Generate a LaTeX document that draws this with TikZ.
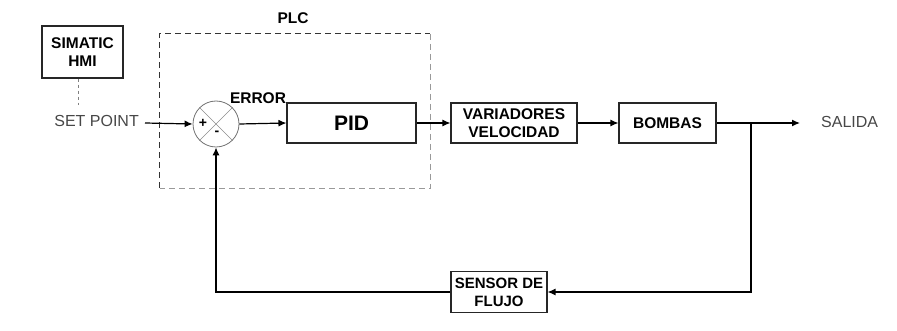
\documentclass[tikz,border=0pt]{standalone}
\usepackage{fontspec}
\setmainfont{Liberation Sans}
\usetikzlibrary{arrows.meta,calc}
\begin{document}
\begin{tikzpicture}[x=1pt,y=-1pt,
  blk/.style={draw=black!85,line width=1.1pt,fill=white,inner sep=0pt,align=center,
     font=\fontsize{15.5}{18}\selectfont\bfseries},
  lbl/.style={font=\fontsize{15.5}{16}\selectfont\bfseries,inner sep=0pt},
  plain/.style={font=\fontsize{16}{17}\selectfont,text=black!72,inner sep=0pt},
  conn/.style={line width=1.2pt,-{Latex[length=8pt,width=7pt]}},
  plcframe/.style={dashed,line width=1.1pt,dash pattern=on 6pt off 4pt}]
\useasboundingbox (0,0) rectangle (897,331);
% PLC dashed frame
\node[inner sep=0pt,minimum width=270pt,minimum height=154pt] (plc) at (295,111) {};
\draw[plcframe,black!80] (plc.south west) -- (plc.north west) -- (plc.north east);
\draw[plcframe,black!40] (plc.north east) -- (plc.south east) -- (plc.south west);
\node[lbl] (plclbl) at (293,18) {PLC};
% blocks
\node[blk,minimum width=81pt,minimum height=52pt] (hmi) at (82.5,52) {SIMATIC\\HMI};
\node[draw=black!55,line width=0.8pt,circle,minimum size=46pt,inner sep=0pt] (sum) at (216,124) {};
\draw[black!45,line width=0.6pt] (sum.north west) -- (sum.south east) (sum.north east) -- (sum.south west);
\node[font=\fontsize{14}{14}\selectfont\bfseries,inner sep=0pt] (plus) at (203,123) {+};
\node[font=\fontsize{14}{14}\selectfont\bfseries,inner sep=0pt] (minus) at (217,133) {-};
\node[blk,minimum width=129pt,minimum height=40pt,font=\fontsize{21}{22}\selectfont\bfseries] (pid) at (351.5,123) {PID};
\node[blk,minimum width=126pt,minimum height=40pt] (var) at (514,123) {VARIADORES\\VELOCIDAD};
\node[blk,minimum width=97pt,minimum height=40pt] (bom) at (667.5,123) {BOMBAS};
\node[blk,minimum width=96pt,minimum height=41pt,font=\fontsize{15}{18}\selectfont\bfseries] (sen) at (499,292) {SENSOR DE\\FLUJO};
% texts
\node[plain,anchor=east] (sp) at (139,121) {SET POINT};
\node[plain,anchor=west] (sal) at (821,122) {SALIDA};
\node[lbl] (err) at (258,98) {ERROR};
% coordinates
\coordinate (spstart) at (145,123);
\coordinate (branch) at (751,123);
\coordinate (out) at (800,123);
\coordinate (hmilink) at (78,105);
% connectors
\draw[black!50,dashed,line width=0.9pt] (hmi.south -| hmilink) -- (hmilink);
\draw[conn] (spstart) -- (sum.west);
\draw[conn] (sum.east) -- (pid.west);
\draw[conn] (pid.east) -- (var.west);
\draw[conn] (var.east) -- (bom.west);
\draw[conn] (bom.east) -- (out);
\draw[conn] (branch) |- (sen.east);
\draw[conn] (sen.west) -| (sum.south);
\end{tikzpicture}
\end{document}
